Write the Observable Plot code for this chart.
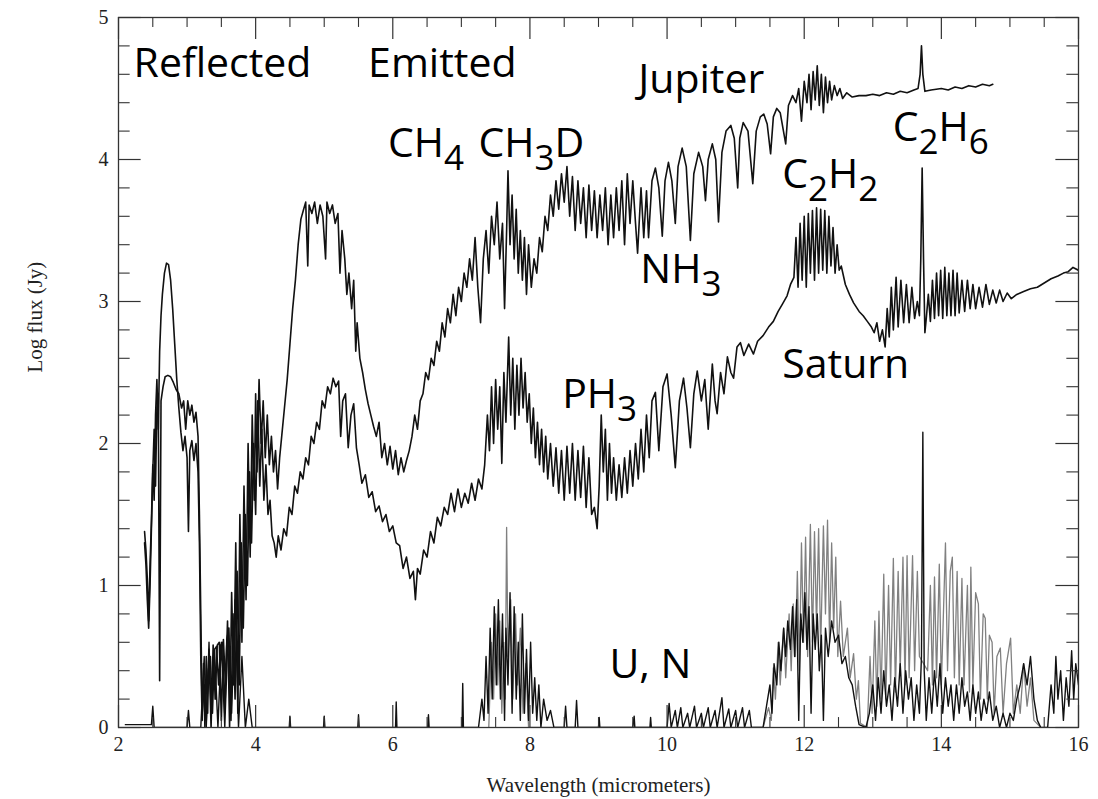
<!DOCTYPE html>
<html><head><meta charset="utf-8">
<script src="https://cdn.jsdelivr.net/npm/d3@7"></script>
<script src="https://cdn.jsdelivr.net/npm/@observablehq/plot@0.6"></script>
<style>html,body{margin:0;padding:0;background:#fff;}</style>
</head><body><div id="chart"></div>
<script>
// ---- Tick values ----
const xMajor = [2,4,6,8,10,12,14,16];
const xMinor = [2.5,3,3.5,4.5,5,5.5,6.5,7,7.5,8.5,9,9.5,10.5,11,11.5,12.5,13,13.5,14.5,15,15.5];
const yMajor = [0,1,2,3,4,5];
const yMinor = [0.2,0.4,0.6,0.8,1.2,1.4,1.6,1.8,2.2,2.4,2.6,2.8,3.2,3.4,3.6,3.8,4.2,4.4,4.6,4.8];

// ---- Annotation labels (x, y = baseline position in data units) ----
const annLabels = ["Reflected","Emitted","Jupiter","CH_4","CH_3D","NH_3","PH_3","C_2H_2","C_2H_6","Saturn","U, N"];
const annX = [2.22,5.64,9.58,5.93,7.25,9.61,8.47,11.68,13.29,11.68,9.16];
const annY = [4.58,4.58,4.47,4.02,4.02,3.13,2.25,3.80,4.13,2.46,0.35];

// ---- Spectra: [wavelength (µm), log flux (Jy)] ----
const jupiter = [
[2.38,1.38],[2.40,1.25],[2.42,1.05],[2.44,0.75],[2.46,1.15],[2.48,1.45],[2.50,1.85],[2.52,1.6],[2.54,2.2],[2.56,2.45],[2.58,2.1],[2.60,2.65],[2.62,2.9],[2.64,3.05],[2.67,3.2],[2.70,3.27],[2.73,3.26],[2.76,3.15],[2.79,2.95],[2.82,2.7],[2.85,2.45],[2.88,2.25],[2.91,2.08],[2.94,1.95],[2.97,2.05],[3.00,1.9],[3.02,1.38],[3.04,1.95],[3.07,2.02],[3.10,1.88],[3.13,2.0],[3.16,1.8],[3.18,1.3],[3.20,0.5],[3.22,0.05],[3.24,0.45],[3.26,0.0],[3.28,0.5],[3.30,0.1],[3.32,0.55],[3.35,0.0],[3.38,0.58],[3.41,0.2],[3.44,0.58],[3.47,0.6],[3.50,0.05],[3.53,0.62],[3.56,0.3],[3.59,0.75],[3.62,0.0],[3.65,0.95],[3.68,0.3],[3.71,1.3],[3.74,0.1],[3.77,1.5],[3.80,0.6],[3.83,1.7],[3.86,0.9],[3.89,2.0],[3.92,1.2],[3.95,2.2],[3.98,1.6],[4.00,2.35],[4.02,1.8],[4.05,2.45],[4.08,2.0],[4.11,2.3],[4.14,1.9],[4.17,2.2],[4.20,1.85],[4.23,2.05],[4.26,1.8],[4.29,1.95],[4.32,1.68],[4.35,1.9],[4.38,2.05],[4.42,2.25],[4.46,2.45],[4.50,2.7],[4.54,2.95],[4.58,3.15],[4.62,3.4],[4.66,3.58],[4.70,3.65],[4.73,3.7],[4.76,3.25],[4.78,3.68],[4.82,3.62],[4.86,3.7],[4.90,3.55],[4.94,3.68],[4.98,3.6],[5.02,3.3],[5.04,3.7],[5.08,3.62],[5.12,3.68],[5.16,3.55],[5.20,3.62],[5.23,3.2],[5.26,3.5],[5.30,3.3],[5.33,3.05],[5.36,3.2],[5.40,2.95],[5.43,3.15],[5.46,2.65],[5.48,2.85],[5.52,2.6],[5.56,2.5],[5.60,2.38],[5.64,2.28],[5.68,2.2],[5.72,2.12],[5.76,2.05],[5.80,2.15],[5.84,1.9],[5.88,2.0],[5.92,1.85],[5.96,1.98],[6.00,1.82],[6.04,1.95],[6.08,1.78],[6.12,1.9],[6.16,1.8],[6.20,1.88],[6.24,1.95],[6.28,2.05],[6.32,2.2],[6.36,2.1],[6.40,2.3],[6.44,2.35],[6.48,2.5],[6.52,2.45],[6.56,2.6],[6.60,2.55],[6.64,2.72],[6.68,2.65],[6.72,2.85],[6.76,2.75],[6.80,2.95],[6.84,2.85],[6.88,3.05],[6.92,2.9],[6.96,3.1],[7.00,3.0],[7.04,3.2],[7.08,3.1],[7.12,3.3],[7.16,3.15],[7.20,3.45],[7.24,3.1],[7.28,2.85],[7.32,3.3],[7.36,3.5],[7.40,3.2],[7.44,3.6],[7.48,3.4],[7.52,3.7],[7.56,3.3],[7.60,3.55],[7.63,2.95],[7.66,3.5],[7.68,3.92],[7.71,3.4],[7.74,3.75],[7.77,3.3],[7.80,3.65],[7.83,3.2],[7.86,3.5],[7.89,3.15],[7.92,3.45],[7.95,3.05],[7.98,3.4],[8.02,3.1],[8.06,3.3],[8.10,3.2],[8.14,3.45],[8.18,3.35],[8.22,3.6],[8.26,3.5],[8.30,3.75],[8.34,3.6],[8.38,3.85],[8.42,3.65],[8.46,3.9],[8.50,3.7],[8.54,3.95],[8.58,3.6],[8.62,3.88],[8.66,3.5],[8.70,3.85],[8.74,3.55],[8.78,3.8],[8.82,3.45],[8.86,3.82],[8.90,3.5],[8.94,3.78],[8.98,3.45],[9.02,3.75],[9.06,3.5],[9.10,3.8],[9.14,3.4],[9.18,3.75],[9.22,3.45],[9.26,3.8],[9.30,3.5],[9.34,3.85],[9.38,3.4],[9.42,3.9],[9.46,3.55],[9.50,3.85],[9.54,3.55],[9.57,3.34],[9.62,3.8],[9.66,3.45],[9.70,3.78],[9.73,3.45],[9.78,3.85],[9.83,3.94],[9.88,3.8],[9.93,3.46],[9.97,3.85],[10.02,3.98],[10.07,3.85],[10.12,3.55],[10.16,3.95],[10.22,4.08],[10.28,3.95],[10.34,3.43],[10.39,3.9],[10.46,4.05],[10.52,3.95],[10.56,3.71],[10.60,4.0],[10.66,4.11],[10.71,4.0],[10.75,3.56],[10.80,4.05],[10.86,4.2],[10.93,4.24],[10.98,4.15],[11.03,3.8],[11.06,4.15],[11.11,4.26],[11.18,4.2],[11.25,3.83],[11.30,4.2],[11.36,4.3],[11.41,4.32],[11.46,4.25],[11.51,4.04],[11.55,4.3],[11.60,4.36],[11.65,4.33],[11.73,4.11],[11.77,4.38],[11.83,4.45],[11.88,4.4],[11.92,4.5],[11.96,4.27],[12.00,4.55],[12.04,4.4],[12.07,4.6],[12.10,4.35],[12.13,4.62],[12.16,4.42],[12.19,4.66],[12.22,4.38],[12.25,4.6],[12.28,4.33],[12.31,4.58],[12.34,4.4],[12.37,4.55],[12.40,4.42],[12.44,4.52],[12.48,4.45],[12.52,4.5],[12.56,4.43],[12.62,4.47],[12.70,4.44],[12.80,4.45],[12.90,4.45],[13.00,4.46],[13.10,4.45],[13.20,4.47],[13.30,4.46],[13.40,4.48],[13.50,4.47],[13.60,4.49],[13.66,4.5],[13.69,4.6],[13.71,4.8],[13.73,4.6],[13.76,4.48],[13.85,4.49],[14.00,4.5],[14.10,4.49],[14.20,4.51],[14.30,4.5],[14.40,4.52],[14.50,4.51],[14.60,4.53],[14.70,4.52],[14.75,4.53]
];

const saturn = [
[2.38,1.3],[2.40,1.15],[2.42,0.9],[2.44,0.7],[2.46,1.0],[2.48,1.4],[2.50,1.8],[2.52,2.1],[2.54,1.7],[2.56,2.25],[2.58,2.35],[2.60,0.33],[2.62,2.3],[2.65,2.4],[2.68,2.47],[2.72,2.48],[2.76,2.47],[2.80,2.43],[2.84,2.38],[2.88,2.35],[2.92,2.25],[2.95,2.3],[2.98,2.1],[3.01,2.3],[3.04,2.2],[3.07,2.27],[3.10,2.15],[3.13,2.22],[3.16,2.05],[3.18,1.5],[3.20,0.8],[3.22,0.1],[3.25,0.3],[3.28,0.05],[3.31,0.4],[3.34,0.5],[3.37,0.1],[3.40,0.55],[3.43,0.57],[3.46,0.3],[3.49,0.58],[3.52,0.6],[3.55,0.1],[3.58,0.62],[3.61,0.7],[3.64,0.05],[3.67,0.8],[3.70,0.2],[3.73,1.1],[3.76,0.3],[3.79,1.3],[3.82,0.7],[3.85,1.5],[3.88,1.0],[3.91,1.8],[3.94,1.3],[3.97,2.0],[4.00,1.5],[4.03,2.3],[4.06,1.7],[4.09,2.1],[4.12,1.6],[4.15,1.85],[4.18,1.5],[4.21,1.6],[4.24,1.35],[4.27,1.3],[4.30,1.2],[4.33,1.35],[4.37,1.25],[4.41,1.4],[4.45,1.35],[4.49,1.55],[4.53,1.5],[4.57,1.7],[4.61,1.65],[4.65,1.8],[4.69,1.75],[4.73,1.9],[4.77,1.85],[4.81,2.05],[4.85,2.0],[4.89,2.15],[4.93,2.1],[4.97,2.3],[5.01,2.25],[5.05,2.4],[5.09,2.35],[5.13,2.46],[5.17,2.4],[5.21,2.44],[5.24,2.05],[5.27,2.3],[5.31,2.35],[5.35,1.97],[5.39,2.2],[5.43,2.28],[5.47,1.97],[5.51,1.85],[5.55,1.72],[5.60,1.78],[5.65,1.62],[5.70,1.66],[5.75,1.52],[5.80,1.56],[5.85,1.45],[5.90,1.5],[5.95,1.38],[6.00,1.42],[6.05,1.3],[6.10,1.28],[6.15,1.12],[6.20,1.2],[6.25,1.05],[6.30,1.1],[6.33,0.9],[6.36,1.12],[6.40,1.08],[6.45,1.25],[6.50,1.2],[6.55,1.38],[6.60,1.3],[6.65,1.48],[6.70,1.42],[6.75,1.55],[6.80,1.5],[6.85,1.65],[6.90,1.52],[6.95,1.68],[7.00,1.55],[7.05,1.65],[7.10,1.58],[7.15,1.72],[7.20,1.6],[7.25,1.75],[7.30,1.68],[7.34,1.85],[7.38,2.2],[7.41,1.95],[7.44,2.4],[7.47,2.0],[7.50,2.45],[7.53,2.1],[7.56,2.4],[7.59,1.86],[7.62,2.5],[7.65,2.15],[7.69,2.75],[7.72,2.2],[7.75,2.6],[7.78,2.1],[7.81,2.55],[7.84,2.2],[7.87,2.6],[7.90,2.25],[7.93,2.5],[7.96,2.15],[7.99,2.35],[8.02,2.0],[8.05,2.25],[8.08,1.9],[8.11,2.15],[8.14,1.85],[8.17,2.1],[8.20,1.8],[8.23,2.05],[8.26,1.75],[8.30,2.0],[8.34,1.7],[8.38,1.97],[8.42,1.65],[8.46,1.95],[8.50,1.6],[8.54,1.98],[8.58,1.65],[8.62,2.0],[8.66,1.6],[8.70,1.95],[8.74,1.62],[8.78,1.98],[8.82,1.55],[8.86,1.9],[8.90,1.5],[8.94,1.55],[8.98,1.4],[9.01,1.7],[9.04,2.2],[9.07,1.8],[9.10,2.1],[9.13,1.6],[9.16,2.0],[9.19,1.65],[9.22,1.9],[9.26,1.6],[9.30,1.85],[9.34,1.62],[9.38,1.9],[9.42,1.65],[9.46,1.95],[9.50,1.7],[9.54,2.0],[9.58,1.75],[9.62,2.1],[9.66,1.8],[9.70,2.2],[9.74,1.9],[9.78,2.3],[9.83,2.36],[9.88,1.95],[9.94,2.4],[10.00,2.49],[10.06,2.2],[10.12,1.83],[10.18,2.3],[10.24,2.46],[10.29,2.25],[10.34,1.97],[10.39,2.35],[10.44,2.51],[10.50,2.3],[10.55,2.45],[10.60,2.1],[10.66,2.56],[10.70,2.3],[10.73,2.21],[10.78,2.5],[10.83,2.35],[10.88,2.61],[10.93,2.5],[10.97,2.46],[11.02,2.68],[11.07,2.71],[11.12,2.62],[11.19,2.7],[11.26,2.63],[11.32,2.72],[11.40,2.76],[11.48,2.82],[11.55,2.86],[11.62,2.93],[11.68,2.98],[11.75,3.04],[11.80,3.12],[11.85,3.17],[11.88,3.45],[11.91,3.1],[11.94,3.55],[11.97,3.15],[12.00,3.6],[12.03,3.1],[12.06,3.62],[12.09,3.2],[12.12,3.64],[12.15,3.15],[12.18,3.66],[12.21,3.2],[12.24,3.65],[12.27,3.22],[12.30,3.64],[12.33,3.2],[12.36,3.6],[12.39,3.25],[12.42,3.52],[12.45,3.2],[12.48,3.4],[12.51,3.22],[12.54,3.25],[12.60,3.12],[12.66,3.05],[12.72,2.99],[12.80,2.93],[12.86,2.9],[12.92,2.86],[12.98,2.82],[13.02,2.78],[13.06,2.85],[13.10,2.72],[13.14,2.8],[13.18,2.68],[13.21,2.95],[13.24,2.75],[13.27,3.1],[13.30,2.8],[13.34,3.17],[13.37,2.82],[13.41,3.15],[13.45,2.85],[13.49,3.12],[13.53,2.85],[13.57,3.1],[13.61,2.88],[13.65,3.0],[13.68,2.9],[13.70,3.3],[13.72,3.94],[13.74,3.3],[13.76,2.78],[13.78,2.88],[13.81,3.05],[13.84,2.86],[13.87,3.15],[13.90,2.88],[13.93,3.2],[13.96,2.9],[13.99,3.22],[14.02,2.88],[14.05,3.24],[14.08,2.9],[14.11,3.2],[14.14,2.9],[14.17,3.22],[14.20,2.9],[14.23,3.2],[14.26,2.92],[14.30,3.15],[14.34,2.93],[14.38,3.15],[14.42,2.95],[14.46,3.12],[14.50,2.95],[14.55,3.1],[14.60,2.96],[14.65,3.12],[14.70,2.98],[14.75,3.08],[14.80,2.99],[14.85,3.08],[14.90,3.0],[14.96,3.06],[15.02,3.02],[15.10,3.05],[15.20,3.07],[15.30,3.09],[15.40,3.1],[15.50,3.13],[15.60,3.16],[15.70,3.18],[15.78,3.2],[15.85,3.21],[15.92,3.24],[16.00,3.22]
];

const neptune = [
[2.10,0.02],[2.48,0.02],[2.50,0.15],[2.52,0.0],[3.00,0.0],[3.02,0.12],[3.04,0.0],[3.20,0.0],[3.25,0.5],[3.28,0.0],[3.32,0.6],[3.35,0.1],[3.40,0.55],[3.45,0.0],[3.50,0.6],[3.55,0.0],[3.60,0.7],[3.65,0.1],[3.70,0.9],[3.75,0.0],[3.80,0.5],[3.85,0.0],[3.90,0.2],[3.95,0.0],[4.49,0.0],[4.50,0.08],[4.51,0.0],[4.99,0.0],[5.00,0.08],[5.01,0.0],[5.49,0.0],[5.50,0.09],[5.51,0.0],[6.04,0.0],[6.05,0.18],[6.06,0.0],[6.51,0.0],[6.52,0.09],[6.53,0.0],[7.01,0.0],[7.02,0.31],[7.03,0.0],
[7.25,0.0],[7.30,0.2],[7.33,0.05],[7.36,0.5],[7.39,0.1],[7.42,0.7],[7.45,0.2],[7.48,0.85],[7.51,0.3],[7.54,0.9],[7.57,0.2],[7.60,0.8],[7.63,0.05],[7.65,0.7],[7.68,0.3],[7.71,0.95],[7.74,0.1],[7.77,0.85],[7.80,0.2],[7.83,0.6],[7.86,0.05],[7.89,0.8],[7.92,0.1],[7.95,0.55],[7.98,0.05],[8.01,0.6],[8.04,0.1],[8.07,0.35],[8.10,0.05],[8.13,0.3],[8.16,0.0],[8.20,0.2],[8.25,0.05],[8.30,0.12],[8.35,0.0],[8.50,0.0],[8.52,0.15],[8.54,0.0],[8.66,0.0],[8.68,0.19],[8.70,0.0],[9.00,0.0],[9.01,0.07],[9.02,0.0],[9.50,0.0],[9.52,0.08],[9.53,0.0],[9.75,0.0],[9.76,0.07],[9.77,0.0],[10.00,0.0],[10.03,0.17],[10.06,0.0],[10.12,0.12],[10.15,0.0],[10.20,0.14],[10.23,0.0],[10.30,0.1],[10.33,0.0],[10.40,0.15],[10.43,0.0],[10.50,0.1],[10.53,0.0],[10.60,0.14],[10.63,0.0],[10.70,0.12],[10.73,0.0],[10.80,0.21],[10.83,0.0],[10.90,0.13],[10.93,0.0],[11.00,0.12],[11.03,0.0],[11.10,0.14],[11.13,0.0],[11.20,0.12],[11.23,0.0],[11.40,0.0],
[11.45,0.15],[11.50,0.3],[11.53,0.1],[11.56,0.45],[11.60,0.3],[11.63,0.6],[11.66,0.4],[11.70,0.7],[11.73,0.5],[11.76,0.75],[11.80,0.55],[11.83,0.85],[11.86,0.5],[11.89,0.9],[11.92,0.05],[11.95,0.8],[11.98,0.6],[12.01,0.95],[12.04,0.55],[12.07,0.85],[12.10,0.1],[12.13,0.8],[12.16,0.55],[12.19,0.8],[12.22,0.4],[12.25,0.65],[12.28,0.05],[12.31,0.7],[12.35,0.5],[12.40,0.75],[12.45,0.6],[12.50,0.65],[12.55,0.45],[12.60,0.5],[12.65,0.35],[12.70,0.3],[12.75,0.15],[12.80,0.02],[12.90,0.0],
[12.95,0.1],[13.00,0.3],[13.04,0.05],[13.08,0.35],[13.12,0.1],[13.16,0.4],[13.20,0.15],[13.24,0.3],[13.28,0.05],[13.32,0.35],[13.36,0.15],[13.40,0.45],[13.44,0.1],[13.48,0.4],[13.52,0.2],[13.56,0.35],[13.60,0.05],[13.64,0.3],[13.68,0.1],[13.71,0.5],[13.73,2.08],[13.75,0.4],[13.78,0.05],[13.82,0.35],[13.86,0.1],[13.90,0.4],[13.94,0.15],[13.98,0.45],[14.02,0.1],[14.06,0.35],[14.10,0.15],[14.14,0.3],[14.18,0.05],[14.22,0.3],[14.26,0.1],[14.30,0.35],[14.34,0.15],[14.38,0.25],[14.42,0.05],[14.46,0.3],[14.50,0.1],[14.54,0.25],[14.58,0.05],[14.62,0.2],[14.66,0.1],[14.70,0.25],[14.75,0.05],[14.80,0.15],[14.85,0.0],[14.90,0.1],[14.95,0.0],[15.00,0.1],[15.05,0.05],[15.10,0.2],[15.15,0.3],[15.20,0.45],[15.25,0.3],[15.30,0.5],[15.35,0.2],[15.40,0.05],[15.45,0.0],[15.55,0.0],[15.60,0.3],[15.64,0.1],[15.67,0.5],[15.70,0.2],[15.74,0.4],[15.78,0.05],[15.82,0.35],[15.86,0.15],[15.90,0.54],[15.93,0.2],[15.96,0.45],[16.00,0.3]
];

const uranus = [
[7.40,0.0],[7.44,0.6],[7.47,0.2],[7.50,0.8],[7.53,0.3],[7.56,0.75],[7.59,0.1],[7.62,0.6],[7.64,0.2],[7.66,1.41],[7.68,0.5],[7.72,0.9],[7.75,0.2],[7.79,0.8],[7.82,0.3],[7.86,0.7],[7.90,0.1],[7.94,0.45],[7.98,0.0],
[11.40,0.0],[11.48,0.14],[11.52,0.05],[11.55,0.42],[11.58,0.2],[11.62,0.6],[11.65,0.3],[11.70,0.7],[11.73,0.35],[11.78,0.8],[11.81,0.4],[11.84,0.87],[11.87,0.5],[11.90,1.1],[11.93,0.4],[11.96,1.3],[11.99,0.6],[12.02,1.34],[12.05,0.5],[12.09,1.43],[12.12,0.6],[12.15,1.38],[12.18,0.7],[12.21,1.4],[12.24,0.55],[12.28,1.42],[12.31,0.8],[12.34,1.46],[12.37,0.6],[12.40,1.3],[12.43,0.7],[12.46,1.2],[12.49,0.5],[12.53,0.89],[12.57,0.5],[12.63,0.7],[12.67,0.35],[12.72,0.52],[12.76,0.2],[12.79,0.33],[12.82,0.03],[12.92,0.0],[12.96,0.5],[12.99,0.1],[13.03,0.75],[13.06,0.15],[13.09,0.82],[13.12,0.2],[13.16,1.08],[13.19,0.2],[13.23,1.0],[13.26,0.3],[13.30,1.19],[13.33,0.25],[13.37,1.1],[13.40,0.4],[13.44,1.2],[13.47,0.3],[13.50,1.21],[13.53,0.35],[13.58,1.21],[13.61,0.4],[13.65,1.1],[13.68,0.5],[13.80,0.4],[13.84,1.0],[13.87,0.3],[13.90,1.06],[13.93,0.35],[13.97,1.15],[14.00,0.3],[14.06,1.3],[14.09,0.4],[14.13,1.1],[14.16,1.2],[14.19,0.35],[14.23,1.1],[14.26,0.3],[14.30,1.05],[14.33,0.3],[14.38,1.0],[14.41,0.25],[14.43,1.13],[14.46,0.3],[14.50,0.95],[14.54,0.87],[14.57,0.2],[14.61,0.8],[14.64,0.77],[14.67,0.2],[14.70,0.65],[14.74,0.6],[14.77,0.1],[14.81,0.5],[14.86,0.56],[14.90,0.1],[14.95,0.45],[15.01,0.63],[15.05,0.1],[15.10,0.3],[15.15,0.1],[15.20,0.45],[15.25,0.15],[15.30,0.35],[15.35,0.05],[15.45,0.0]
];

const serif = "'Liberation Serif', 'DejaVu Serif', serif";
const sans = "'Open Sans', 'Noto Sans', sans-serif";
const X = d => d[0], Y = d => d[1];

const chart = Plot.plot({
  width: 1098,
  height: 799,
  marginLeft: 118,
  marginRight: 20,
  marginTop: 17,
  marginBottom: 72,
  x: {domain: [2, 16], axis: null},
  y: {domain: [0, 5], axis: null},
  style: {background: "#fff", fontFamily: serif, color: "#111"},
  marks: [
    // spectra
    Plot.line(uranus, {x: X, y: Y, stroke: "#808080", strokeWidth: 1.3, clip: true}),
    Plot.line(neptune, {x: X, y: Y, stroke: "#111", strokeWidth: 1.4, clip: true}),
    Plot.line(saturn, {x: X, y: Y, stroke: "#111", strokeWidth: 1.6, clip: true}),
    Plot.line(jupiter, {x: X, y: Y, stroke: "#111", strokeWidth: 1.6, clip: true}),
    // frame
    Plot.frame({stroke: "#333", strokeWidth: 1.3}),
    // inward ticks: bottom / top
    Plot.ruleX(xMajor, {y1: 0, y2: 0.155, stroke: "#333", strokeWidth: 1.2}),
    Plot.ruleX(xMinor, {y1: 0, y2: 0.07, stroke: "#333", strokeWidth: 1.1}),
    Plot.ruleX(xMajor, {y1: 5, y2: 4.845, stroke: "#333", strokeWidth: 1.2}),
    Plot.ruleX(xMinor, {y1: 5, y2: 4.93, stroke: "#333", strokeWidth: 1.1}),
    // inward ticks: left / right
    Plot.ruleY(yMajor, {x1: 2, x2: 2.33, stroke: "#333", strokeWidth: 1.2}),
    Plot.ruleY(yMinor, {x1: 2, x2: 2.17, stroke: "#333", strokeWidth: 1.1}),
    Plot.ruleY(yMajor, {x1: 16, x2: 15.67, stroke: "#333", strokeWidth: 1.2}),
    Plot.ruleY(yMinor, {x1: 16, x2: 15.83, stroke: "#333", strokeWidth: 1.1}),
    // tick labels
    Plot.text(xMajor, {x: d => d, y: 0, text: d => String(d), dy: 17, textAnchor: "middle", lineAnchor: "middle", fontSize: 20, fontFamily: serif, fill: "#222"}),
    Plot.text(yMajor, {x: 2, y: d => d, text: d => String(d), dx: -10, textAnchor: "end", lineAnchor: "middle", fontSize: 20, fontFamily: serif, fill: "#222"}),
    // axis titles
    Plot.text(["Wavelength (micrometers)"], {frameAnchor: "bottom", dy: 58, text: d => d, fontSize: 21, fontFamily: serif, fill: "#222", lineAnchor: "middle"}),
    Plot.text(["Log flux (Jy)"], {frameAnchor: "left", dx: -83, rotate: -90, text: d => d, fontSize: 21, fontFamily: serif, fill: "#222", lineAnchor: "middle"}),
    // annotations
    Plot.text(annLabels, {x: (d, i) => annX[i], y: (d, i) => annY[i], text: d => d, textAnchor: "start", lineAnchor: "bottom", fontSize: 41, fontFamily: sans, fill: "#000"})
  ]
});

// Render subscripts (e.g. "CH_4" -> CH with subscript 4)
d3.select(chart).selectAll("text").each(function () {
  const t = this.textContent;
  if (!t || t.indexOf("_") < 0) return;
  const parts = t.split(/_(\d)/);
  this.textContent = "";
  const sel = d3.select(this);
  parts.forEach((p, i) => {
    if (!p) return;
    const ts = sel.append("tspan").text(p);
    if (i % 2 === 1) ts.attr("dy", 13).attr("font-size", 35);
    else if (i > 0) ts.attr("dy", -13);
  });
});

document.getElementById("chart").appendChild(chart);
</script></body></html>
